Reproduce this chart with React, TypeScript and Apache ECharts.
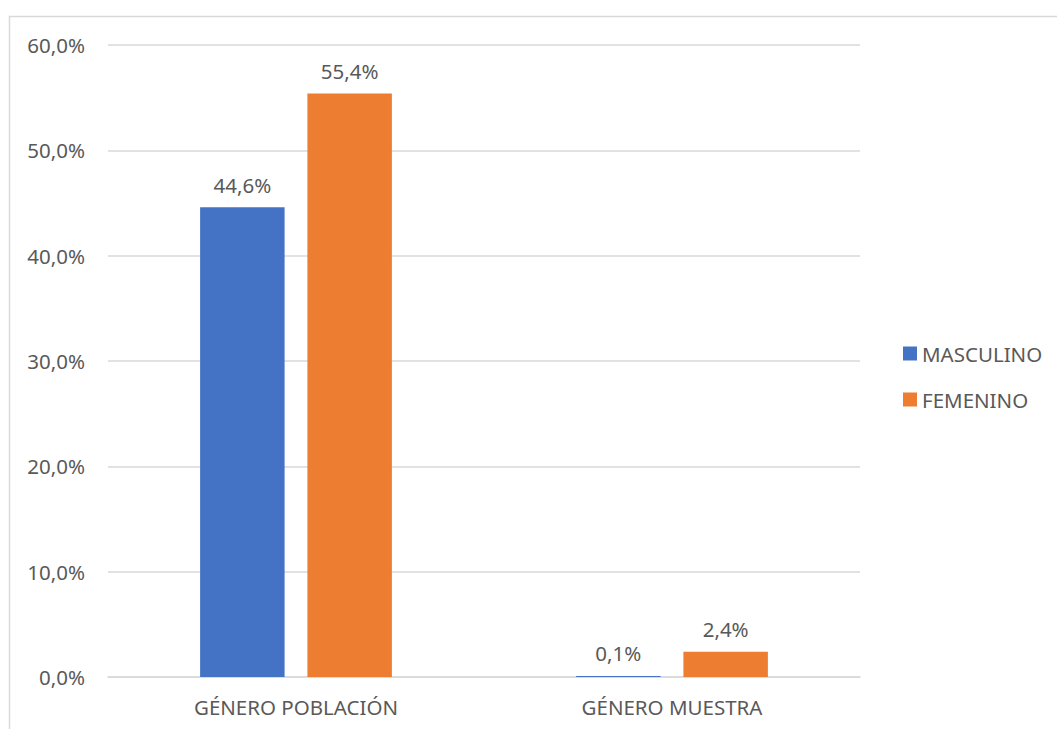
import React, { useEffect, useRef } from "react";
import * as echarts from "echarts";

const categories = ["GÉNERO POBLACIÓN", "GÉNERO MUESTRA"];
const seriesNames = ["MASCULINO", "FEMENINO"];
const masculino = [44.6, 0.1];
const femenino = [55.4, 2.4];
const yTicks = { min: 0, max: 60, interval: 10 };

const FONT = "'Noto Sans', 'Open Sans', sans-serif";
const TEXT = "#595959";
const GRID = "#d9d9d9";
const FS = 20.5;

const fmt = (v: number) => v.toFixed(1).replace(".", ",") + "%";

export default function App() {
  const ref = useRef<HTMLDivElement>(null);

  useEffect(() => {
    if (!ref.current) return;
    const chart = echarts.init(ref.current, undefined, { renderer: "svg" });
    const barLabel = {
      show: true,
      position: "top" as const,
      distance: 12,
      color: TEXT,
      fontFamily: FONT,
      fontSize: FS,
      formatter: (p: any) => fmt(p.value),
    };
    chart.setOption({
      animation: false,
      backgroundColor: "#ffffff",
      textStyle: { fontFamily: FONT },
      graphic: [
        {
          type: "rect",
          shape: { x: 9.5, y: 16.5, width: 1100, height: 800 },
          style: { fill: "none", stroke: GRID, lineWidth: 1.5 },
          silent: true,
        },
      ],
      grid: { left: 108, right: 197, top: 45, bottom: 52, containLabel: false },
      legend: {
        orient: "vertical",
        left: 903,
        top: 343,
        padding: 0,
        itemWidth: 14,
        itemHeight: 14,
        itemGap: 25,
        icon: "rect",
        textStyle: { color: TEXT, fontFamily: FONT, fontSize: FS },
        data: seriesNames,
      },
      xAxis: {
        type: "category",
        data: categories,
        axisLine: { lineStyle: { color: GRID, width: 1.5 } },
        axisTick: { show: false },
        axisLabel: { color: TEXT, fontFamily: FONT, fontSize: FS, margin: 19 },
      },
      yAxis: {
        type: "value",
        min: yTicks.min,
        max: yTicks.max,
        interval: yTicks.interval,
        axisLine: { show: false },
        axisTick: { show: false },
        splitLine: { lineStyle: { color: GRID, width: 1.5 } },
        axisLabel: {
          color: TEXT,
          fontFamily: FONT,
          fontSize: FS,
          margin: 23,
          formatter: (v: number) => fmt(v),
        },
      },
      series: [
        {
          name: seriesNames[0],
          type: "bar",
          data: masculino,
          itemStyle: { color: "#4472C4" },
          barGap: "27%",
          barCategoryGap: "49%",
          label: barLabel,
        },
        {
          name: seriesNames[1],
          type: "bar",
          data: femenino,
          itemStyle: { color: "#ED7D31" },
          barGap: "27%",
          barCategoryGap: "49%",
          label: barLabel,
        },
      ],
    });
    return () => chart.dispose();
  }, []);

  return (
    <div
      ref={ref}
      style={{ position: "fixed", left: 0, top: 0, width: 1057, height: 729 }}
    />
  );
}
